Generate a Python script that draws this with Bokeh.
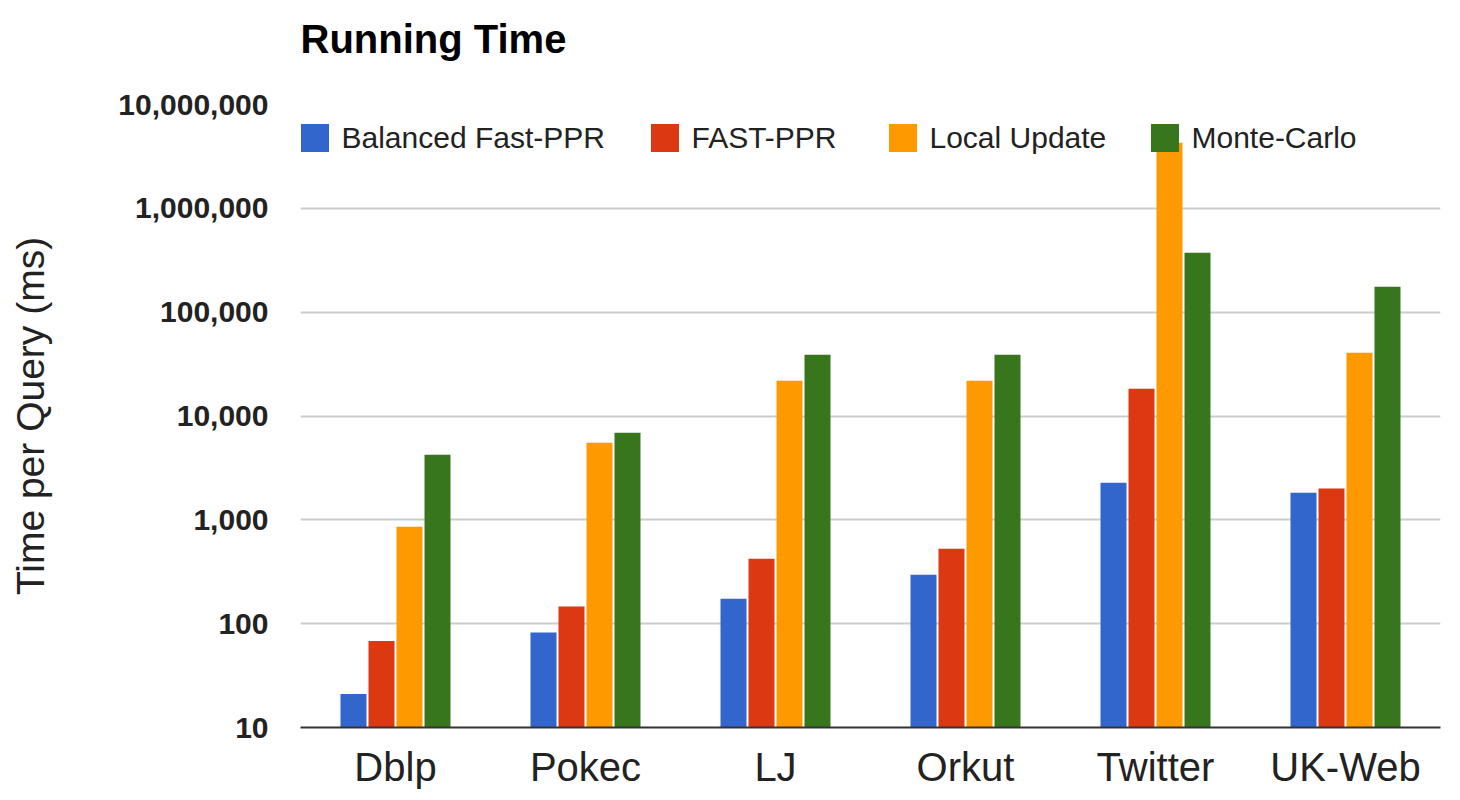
from bokeh.plotting import figure
from bokeh.models import FactorRange, Range1d, FixedTicker, NumeralTickFormatter, Legend, LegendItem, Title
from bokeh.transform import dodge
from bokeh.embed import file_html
from bokeh.resources import INLINE

categories = ["Dblp", "Pokec", "LJ", "Orkut", "Twitter", "UK-Web"]
balanced_fast_ppr = [21, 82, 174, 296, 2280, 1820]
fast_ppr = [68, 146, 422, 527, 18300, 2000]
local_update = [860, 5530, 21900, 21900, 4270000, 40700]
monte_carlo = [4240, 6900, 39000, 39000, 374000, 176000]
series_names = ["Balanced Fast-PPR", "FAST-PPR", "Local Update", "Monte-Carlo"]
y_ticks = [10, 100, 1000, 10000, 100000, 1000000, 10000000]

colors = ["#3366cc", "#dc3912", "#ff9900", "#38761d"]
FONT = "Liberation Sans"

p = figure(
    width=1452, height=792,
    x_range=FactorRange(factors=categories, range_padding=0),
    y_range=Range1d(10, 10000000),
    y_axis_type="log",
    output_backend="svg", toolbar_location=None,
    min_border_left=300, min_border_right=12, min_border_top=104, min_border_bottom=65,
)

data = dict(cat=categories, s0=balanced_fast_ppr, s1=fast_ppr, s2=local_update, s3=monte_carlo)
bw = 26 / 190
offsets = [-42 / 190, -14 / 190, 14 / 190, 42 / 190]
renderers = []
for i, key in enumerate(["s0", "s1", "s2", "s3"]):
    r = p.vbar(x=dodge("cat", offsets[i], range=p.x_range), top=key, bottom=1, width=bw,
               source=data, fill_color=colors[i], line_color=None)
    renderers.append(r)

legend_x = [-3.5, 346.5, 584.5, 846.5]
for i, r in enumerate(renderers):
    lg = Legend(items=[LegendItem(label=series_names[i], renderers=[r])],
                orientation="horizontal", location=(legend_x[i], 572),
                glyph_width=35, glyph_height=35, label_standoff=10, spacing=0,
                padding=0, margin=0, background_fill_alpha=0, border_line_alpha=0,
                label_text_font=FONT, label_text_font_size="30px", label_text_color="#222222")
    p.add_layout(lg, "center")

# trailing empty line lifts the title away from the plot area
main_title = Title(text="Running Time\n", text_font=FONT, text_font_size="40px",
                   text_font_style="bold", text_color="#000000", align="left",
                   standoff=0, text_line_height=1.0)
p.add_layout(main_title, "above")

p.outline_line_color = None
p.xgrid.grid_line_color = None
p.ygrid.grid_line_color = "#cccccc"
p.ygrid.grid_line_width = 2
p.ygrid.ticker = FixedTicker(ticks=y_ticks)

p.yaxis.ticker = FixedTicker(ticks=y_ticks)
p.yaxis.formatter = NumeralTickFormatter(format="0,0")
p.yaxis.axis_line_color = None
p.yaxis.major_tick_line_color = None
p.yaxis.minor_tick_line_color = None
p.yaxis.major_tick_out = 0
p.yaxis.major_label_standoff = 32
p.yaxis.major_label_text_font = FONT
p.yaxis.major_label_text_font_size = "30px"
p.yaxis.major_label_text_font_style = "bold"
p.yaxis.major_label_text_color = "#222222"
p.yaxis.axis_label = "Time per Query (ms)"
p.yaxis.axis_label_text_font = FONT
p.yaxis.axis_label_text_font_size = "39px"
p.yaxis.axis_label_text_font_style = "normal"
p.yaxis.axis_label_text_color = "#222222"
p.yaxis.axis_label_standoff = 63

p.xaxis.axis_line_color = "#333333"
p.xaxis.axis_line_width = 2
p.xaxis.major_tick_line_color = None
p.xaxis.minor_tick_line_color = None
p.xaxis.major_tick_out = 0
p.xaxis.major_label_standoff = 17
p.xaxis.major_label_text_font = FONT
p.xaxis.major_label_text_font_size = "40px"
p.xaxis.major_label_text_color = "#222222"

open("out.html", "w").write(file_html(p, INLINE))
